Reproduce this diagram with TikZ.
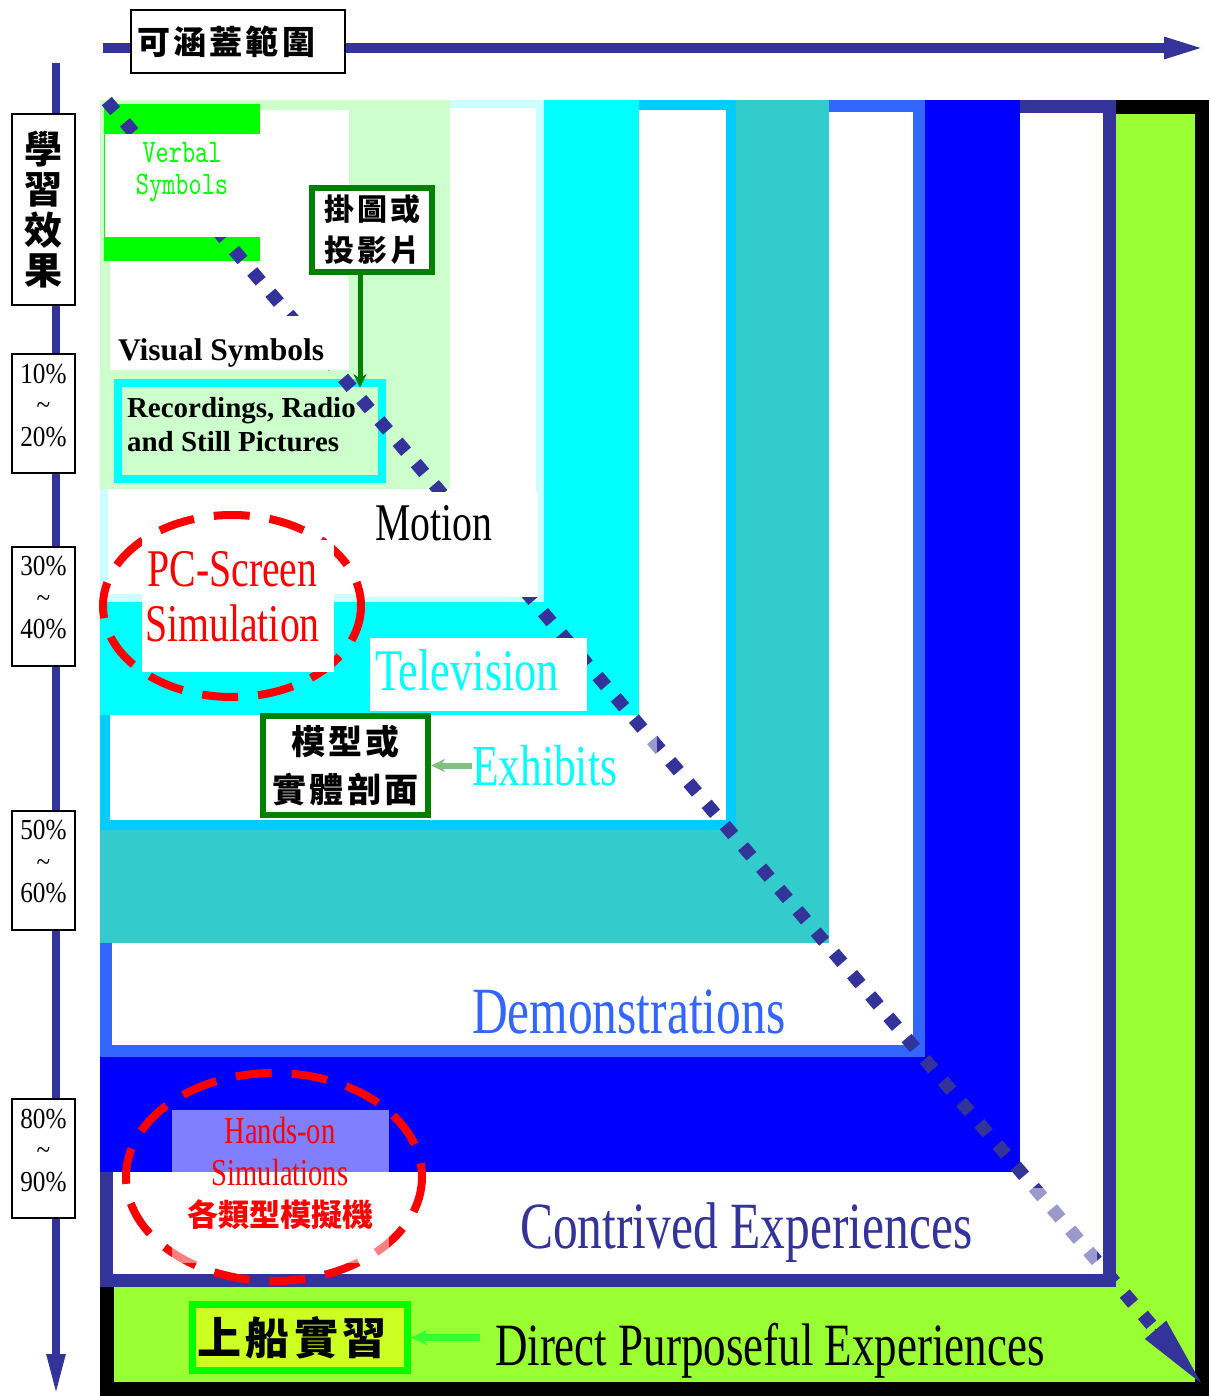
\documentclass[tikz,border=0pt]{standalone}
\usepackage{fontspec}
\usepackage{tikz}
\usetikzlibrary{arrows.meta,positioning,calc}

\setmainfont{Liberation Serif}
\newfontfamily\narrowfont{Liberation Serif}[FakeStretch=0.75]
\newfontfamily\pctfont{Liberation Serif}[FakeStretch=0.87]
\newfontfamily\boldserif{Liberation Serif}
\newfontfamily\verbalfont{lmmono10-regular.otf}[FakeStretch=0.76]
\newfontfamily\cjkfont{Noto Sans CJK TC}
\newfontfamily\cjkwide{Noto Sans CJK TC}[LetterSpace=10]

\newcommand{\setpx}[2]{\fontsize{#1pt}{#2pt}\selectfont}

\definecolor{axisblue}{HTML}{333399}
\definecolor{pureblue}{HTML}{0000FF}
\definecolor{demoblue}{HTML}{3366FF}
\definecolor{fieldteal}{HTML}{33CCCC}
\definecolor{exhibitblue}{HTML}{00CCFF}
\definecolor{tvcyan}{HTML}{00FFFF}
\definecolor{motioncyan}{HTML}{CCFFFF}
\definecolor{paleleaf}{HTML}{CCFFCC}
\definecolor{verbalgreen}{HTML}{00FF00}
\definecolor{directgreen}{HTML}{99FF33}
\definecolor{shipyellow}{HTML}{CCFF22}
\definecolor{darkleaf}{HTML}{008000}
\definecolor{softleaf}{HTML}{80C080}
\definecolor{brightleaf}{HTML}{33FF33}

\begin{document}
\begin{tikzpicture}[x=1pt, y=-1pt]
			\tikzstyle{textnode} = [inner sep=0pt, outer sep=0pt]
			\tikzstyle{labelbox} = [draw=black, line width=2pt, fill=white, inner sep=0pt]
			\tikzstyle{pctbox} = [labelbox, minimum width=63pt, minimum height=119pt, align=center, font=\pctfont\setpx{29}{31.5}, text height=83pt, text depth=18pt]
			\tikzstyle{cjkbox} = [draw=darkleaf, line width=6pt, fill=white, inner sep=0pt, align=center]
			\tikzstyle{halfcover} = [fill=white, fill opacity=0.5]
			\tikzstyle{simring} = [draw=red, line width=8pt, dash pattern=on 36pt off 20pt]
			\tikzstyle{dotmark} = [fill=axisblue, minimum size=13pt, inner sep=0pt, outer sep=0pt, rotate=-49.5]
			\tikzstyle{pointer} = [line width=6pt, -{Stealth[length=14pt,width=13pt]}]

			\useasboundingbox (0,0) rectangle (1209,1396);

			% the two axes
			\coordinate (xorigin) at (103,48);
			\coordinate (xend) at (1207,48);
			\coordinate (yorigin) at (56,63);
			\coordinate (yend) at (56,1396);
			\draw[axisblue, line width=10pt, -{Triangle[length=43pt,width=19pt]}] (xorigin) -- (xend);
			\draw[axisblue, line width=8pt, -{Triangle[length=42pt,width=17pt]}] (yorigin) -- (yend);

			\node[labelbox, text width=202pt, inner xsep=6pt, minimum height=63pt, align=left, font=\cjkwide\bfseries\setpx{33}{33}] (rangebox) at (238,41.5) {可涵蓋範圍};
			\node[labelbox, minimum width=63pt, minimum height=191pt, align=center, font=\cjkfont\bfseries\setpx{38}{40.5}] (effectbox) at (43.5,209.5) {學\\習\\效\\果};

			\node[pctbox] (pcta) at (43.5,413.5) {10\%\\\textasciitilde\\20\%};
			\node[pctbox] (pctb) at (43.5,606) {30\%\\\textasciitilde\\40\%};
			\node[pctbox] (pctc) at (43.5,870) {50\%\\\textasciitilde\\60\%};
			\node[pctbox] (pctd) at (43.5,1158.5) {80\%\\\textasciitilde\\90\%};

			% nested layers, outermost first
			\filldraw[draw=black, fill=directgreen, line width=14pt] (107,107) rectangle (1202,1389);
			\filldraw[draw=axisblue, fill=white, line width=13pt] (106.5,106.5) rectangle (1109.5,1280.5);
			\fill[pureblue] (100,100) rectangle (1020,1172);
			\filldraw[draw=demoblue, fill=white, line width=12pt] (106,106) rectangle (919,1051);
			\fill[fieldteal] (100,100) rectangle (829,943);
			\filldraw[draw=exhibitblue, fill=white, line width=10pt] (105,105) rectangle (731,825);
			\fill[tvcyan] (100,100) rectangle (639,715);
			\filldraw[draw=motioncyan, fill=white, line width=8pt] (104,104) rectangle (540,598);
			\fill[paleleaf] (100,100) rectangle (450,489);
			\fill[white] (110,110) rectangle (349,368);
			\fill[verbalgreen] (104,104) rectangle (260,261);

			\node[draw=tvcyan, line width=8pt, fill=paleleaf, minimum width=264pt, minimum height=96pt, inner sep=0pt] (recordings) at (250,431) {};
			\node[cjkbox, minimum width=120pt, minimum height=84pt, font=\cjkwide\bfseries\setpx{30}{41}] (chartbox) at (372,230) {掛圖或\\投影片};
			\draw[pointer, darkleaf, line width=5pt, shorten >=-9pt] ([xshift=-12pt]chartbox.south) -- ([xshift=-12pt]chartbox.south |- recordings.north);

			% diagonal of the cone: a row of diamonds and its head
			\coordinate (conetop) at (111,106);
			\coordinate (conetip) at (1201,1383);
			\foreach \i in {0,...,57}
				\node[dotmark] (dot\i) at ($(conetop)!\i*28pt!(conetip)$) {};
			\draw[axisblue, line width=1pt, -{Triangle[length=70pt,width=28pt]}] ($(conetip)!71pt!(conetop)$) -- (conetip);

			\fill[white] (105,134) rectangle (259.5,237);
			\node[textnode, anchor=base, align=center, font=\verbalfont\setpx{33}{32}, text=verbalgreen] (verbal) at (182,195) {Verbal\\Symbols};

			\fill[white] (110,316) rectangle (349,370);
			\node[textnode, anchor=base west, font=\boldserif\bfseries\setpx{31.5}{31.5}] (visual) at (118,360) {Visual Symbols};
			\node[textnode, anchor=base west, align=left, font=\boldserif\bfseries\setpx{29}{34}] (recordtext) at (127,451) {Recordings, Radio\\and Still Pictures};

			\fill[white] (366,492) rectangle (538,597);
			\node[textnode, anchor=base west, font=\narrowfont\setpx{53}{53}] (motion) at (375,540) {Motion};

			\draw[simring] (232,606) ellipse [x radius=129, y radius=91];
			\fill[white] (142,540) rectangle (334,672);
			\node[textnode, anchor=base, align=center, font=\narrowfont\setpx{53}{55}, text=red] (pcscreen) at (232.5,641) {PC-Screen\\Simulation};

			\fill[white] (370,638) rectangle (587,711);
			\node[textnode, anchor=base west, font=\narrowfont\setpx{59}{59}, text=tvcyan] (tv) at (375,690) {Television};

			\fill[halfcover] (468,735) rectangle (657,800);
			\node[textnode, anchor=base west, font=\narrowfont\setpx{58}{58}, text=tvcyan] (exhibits) at (472,785) {Exhibits};
			\node[cjkbox, minimum width=165pt, minimum height=99pt, font=\cjkwide\bfseries\setpx{34}{48.5}] (modelbox) at (345.5,765.5) {模型或\\實體剖面};
			\draw[pointer, softleaf] (exhibits.west |- modelbox.east) -- (modelbox.east);

			\node[textnode, anchor=base west, font=\narrowfont\setpx{66}{66}, text=demoblue] (demo) at (472,1033) {Demonstrations};

			\fill[halfcover] (505,1188) rectangle (1097,1271);
			\node[textnode, anchor=base west, font=\narrowfont\setpx{66}{66}, text=axisblue] (contrived) at (520,1248) {Contrived Experiences};

			\draw[simring] (274,1177) ellipse [x radius=148, y radius=104];
			\fill[halfcover] (172,1110) rectangle (389,1263);
			\node[textnode, anchor=base, align=center, font=\narrowfont\setpx{38}{42}, text=red] (handson) at (280,1185) {Hands-on\\Simulations};
			\node[textnode, font=\cjkfont\bfseries\setpx{31}{31}, text=red] (simulator) at (280,1215) {各類型模擬機};

			\node[draw=verbalgreen, line width=7pt, fill=shipyellow, text width=205pt, inner xsep=5pt, inner ysep=0pt, minimum height=66pt, align=left, font=\cjkwide\bfseries\setpx{44}{44}] (shipbox) at (300,1337.5) {上船實習};
			\node[textnode, anchor=base west, font=\narrowfont\setpx{60}{60}] (direct) at (495,1365) {Direct Purposeful Experiences};
			\draw[pointer, brightleaf, line width=7pt, -{Stealth[length=16pt,width=15pt]}, shorten <=15pt] (direct.west |- shipbox.east) -- (shipbox.east);
\end{tikzpicture}
\end{document}
